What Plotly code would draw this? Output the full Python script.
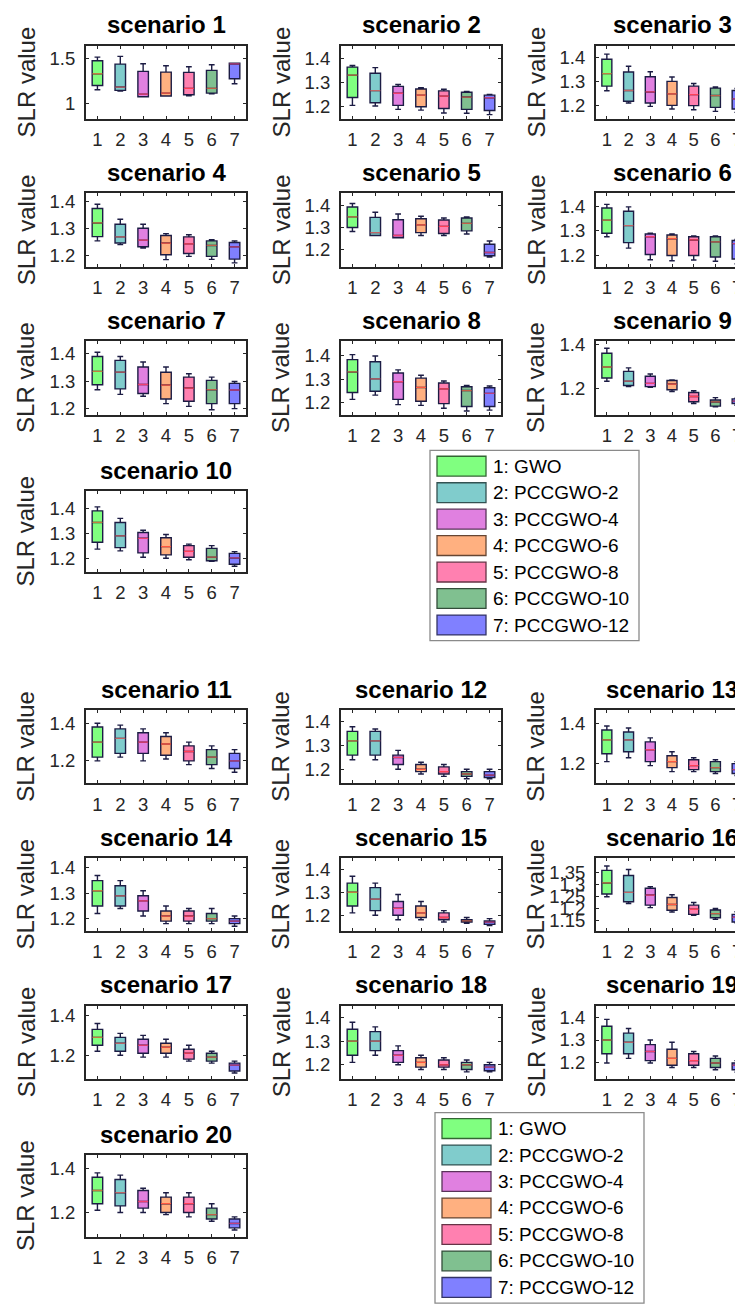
import plotly.graph_objects as go

# ---------------- data ----------------
SCENARIOS = [f"scenario {i}" for i in range(1, 21)]
CATEGORIES = ["1", "2", "3", "4", "5", "6", "7"]
METHODS = ["1: GWO", "2: PCCGWO-2", "3: PCCGWO-4", "4: PCCGWO-6",
           "5: PCCGWO-8", "6: PCCGWO-10", "7: PCCGWO-12"]

LOWER = [
    [1.148, 1.135, 1.070, 1.078, 1.081, 1.104, 1.215],
    [1.203, 1.200, 1.186, 1.183, 1.171, 1.170, 1.164],
    [1.262, 1.211, 1.197, 1.186, 1.183, 1.176, 1.172],
    [1.254, 1.240, 1.227, 1.184, 1.196, 1.185, 1.172],
    [1.281, 1.263, 1.253, 1.263, 1.263, 1.270, 1.165],
    [1.276, 1.230, 1.183, 1.179, 1.182, 1.177, 1.166],
    [1.269, 1.252, 1.245, 1.218, 1.208, 1.196, 1.200],
    [1.215, 1.233, 1.193, 1.190, 1.178, 1.166, 1.170],
    [1.233, 1.208, 1.205, 1.186, 1.131, 1.116, 1.123],
    [1.239, 1.232, 1.207, 1.203, 1.197, 1.191, 1.171],
    [1.20, 1.22, 1.20, 1.21, 1.18, 1.16, 1.14],
    [1.24, 1.24, 1.20, 1.18, 1.17, 1.16, 1.16],
    [1.21, 1.23, 1.19, 1.16, 1.16, 1.15, 1.14],
    [1.22, 1.24, 1.21, 1.18, 1.18, 1.18, 1.17],
    [1.21, 1.20, 1.18, 1.18, 1.17, 1.165, 1.155],
    [1.248, 1.220, 1.203, 1.185, 1.171, 1.154, 1.140],
    [1.22, 1.20, 1.19, 1.19, 1.17, 1.16, 1.11],
    [1.21, 1.24, 1.20, 1.18, 1.18, 1.17, 1.17],
    [1.20, 1.22, 1.20, 1.18, 1.18, 1.17, 1.16],
    [1.21, 1.20, 1.20, 1.19, 1.18, 1.16, 1.12],
]
Q1 = [
    [1.196, 1.141, 1.070, 1.078, 1.093, 1.111, 1.270],
    [1.236, 1.214, 1.203, 1.197, 1.190, 1.186, 1.181],
    [1.281, 1.218, 1.211, 1.201, 1.200, 1.193, 1.186],
    [1.270, 1.246, 1.232, 1.202, 1.207, 1.196, 1.186],
    [1.299, 1.263, 1.253, 1.276, 1.272, 1.284, 1.171],
    [1.290, 1.252, 1.204, 1.200, 1.200, 1.194, 1.186],
    [1.287, 1.272, 1.255, 1.235, 1.227, 1.218, 1.218],
    [1.244, 1.249, 1.215, 1.207, 1.197, 1.185, 1.185],
    [1.248, 1.213, 1.208, 1.194, 1.139, 1.119, 1.131],
    [1.266, 1.245, 1.224, 1.216, 1.207, 1.193, 1.179],
    [1.22, 1.24, 1.24, 1.23, 1.20, 1.18, 1.16],
    [1.26, 1.26, 1.22, 1.19, 1.18, 1.17, 1.165],
    [1.25, 1.26, 1.21, 1.18, 1.17, 1.16, 1.15],
    [1.25, 1.25, 1.23, 1.19, 1.19, 1.19, 1.18],
    [1.24, 1.22, 1.20, 1.19, 1.18, 1.17, 1.16],
    [1.259, 1.227, 1.213, 1.192, 1.175, 1.161, 1.143],
    [1.25, 1.22, 1.21, 1.21, 1.18, 1.17, 1.12],
    [1.24, 1.26, 1.21, 1.19, 1.19, 1.18, 1.175],
    [1.24, 1.24, 1.21, 1.19, 1.19, 1.18, 1.17],
    [1.24, 1.23, 1.22, 1.20, 1.20, 1.17, 1.13],
]
MEDIAN = [
    [1.326, 1.178, 1.100, 1.111, 1.163, 1.163, 1.435],
    [1.330, 1.265, 1.254, 1.246, 1.242, 1.238, 1.235],
    [1.333, 1.263, 1.257, 1.249, 1.246, 1.242, 1.228],
    [1.321, 1.269, 1.257, 1.246, 1.243, 1.237, 1.232],
    [1.347, 1.276, 1.263, 1.311, 1.304, 1.318, 1.186],
    [1.343, 1.321, 1.276, 1.268, 1.263, 1.255, 1.248],
    [1.336, 1.333, 1.288, 1.286, 1.275, 1.269, 1.268],
    [1.330, 1.301, 1.289, 1.265, 1.259, 1.252, 1.240],
    [1.298, 1.233, 1.223, 1.220, 1.163, 1.138, 1.142],
    [1.345, 1.292, 1.282, 1.249, 1.230, 1.207, 1.204],
    [1.30, 1.32, 1.30, 1.29, 1.25, 1.22, 1.20],
    [1.32, 1.32, 1.25, 1.20, 1.19, 1.18, 1.175],
    [1.32, 1.32, 1.27, 1.21, 1.19, 1.18, 1.17],
    [1.31, 1.29, 1.27, 1.21, 1.21, 1.20, 1.19],
    [1.30, 1.27, 1.23, 1.21, 1.19, 1.175, 1.17],
    [1.305, 1.266, 1.255, 1.216, 1.196, 1.178, 1.163],
    [1.29, 1.26, 1.25, 1.24, 1.21, 1.19, 1.15],
    [1.30, 1.30, 1.24, 1.21, 1.20, 1.20, 1.19],
    [1.30, 1.29, 1.25, 1.22, 1.21, 1.20, 1.19],
    [1.30, 1.29, 1.25, 1.24, 1.24, 1.19, 1.15],
]
Q3 = [
    [1.470, 1.433, 1.352, 1.344, 1.341, 1.363, 1.444],
    [1.364, 1.338, 1.283, 1.272, 1.264, 1.258, 1.246],
    [1.393, 1.340, 1.320, 1.301, 1.281, 1.273, 1.263],
    [1.375, 1.316, 1.301, 1.274, 1.269, 1.254, 1.248],
    [1.392, 1.345, 1.334, 1.339, 1.333, 1.342, 1.223],
    [1.392, 1.379, 1.287, 1.283, 1.276, 1.276, 1.261],
    [1.390, 1.376, 1.352, 1.333, 1.315, 1.303, 1.292],
    [1.382, 1.373, 1.326, 1.304, 1.284, 1.268, 1.264],
    [1.361, 1.278, 1.256, 1.236, 1.181, 1.147, 1.152],
    [1.391, 1.345, 1.305, 1.284, 1.253, 1.242, 1.222],
    [1.38, 1.37, 1.35, 1.33, 1.28, 1.26, 1.24],
    [1.36, 1.36, 1.26, 1.22, 1.21, 1.19, 1.19],
    [1.37, 1.36, 1.31, 1.24, 1.22, 1.21, 1.20],
    [1.35, 1.33, 1.29, 1.23, 1.23, 1.22, 1.20],
    [1.34, 1.32, 1.26, 1.24, 1.21, 1.18, 1.175],
    [1.357, 1.336, 1.283, 1.245, 1.213, 1.193, 1.175],
    [1.33, 1.29, 1.28, 1.26, 1.23, 1.21, 1.16],
    [1.35, 1.34, 1.26, 1.23, 1.22, 1.21, 1.20],
    [1.36, 1.33, 1.28, 1.26, 1.24, 1.22, 1.20],
    [1.36, 1.35, 1.30, 1.27, 1.27, 1.22, 1.17],
]
UPPER = [
    [1.511, 1.519, 1.437, 1.415, 1.404, 1.426, 1.444],
    [1.371, 1.362, 1.291, 1.277, 1.271, 1.262, 1.249],
    [1.414, 1.364, 1.341, 1.319, 1.292, 1.278, 1.271],
    [1.391, 1.335, 1.316, 1.281, 1.277, 1.258, 1.254],
    [1.408, 1.368, 1.360, 1.350, 1.342, 1.347, 1.238],
    [1.407, 1.397, 1.290, 1.287, 1.279, 1.279, 1.265],
    [1.406, 1.390, 1.370, 1.352, 1.327, 1.315, 1.299],
    [1.403, 1.397, 1.339, 1.316, 1.292, 1.273, 1.271],
    [1.384, 1.294, 1.266, 1.239, 1.189, 1.158, 1.155],
    [1.407, 1.361, 1.314, 1.297, 1.259, 1.253, 1.229],
    [1.40, 1.39, 1.37, 1.35, 1.30, 1.28, 1.26],
    [1.38, 1.37, 1.28, 1.23, 1.22, 1.20, 1.20],
    [1.39, 1.38, 1.33, 1.26, 1.23, 1.22, 1.21],
    [1.37, 1.35, 1.31, 1.25, 1.24, 1.24, 1.21],
    [1.37, 1.34, 1.29, 1.26, 1.22, 1.19, 1.185],
    [1.375, 1.361, 1.290, 1.256, 1.224, 1.199, 1.186],
    [1.36, 1.31, 1.30, 1.28, 1.25, 1.22, 1.17],
    [1.38, 1.36, 1.28, 1.24, 1.23, 1.22, 1.21],
    [1.39, 1.35, 1.30, 1.29, 1.25, 1.23, 1.21],
    [1.38, 1.37, 1.31, 1.29, 1.29, 1.24, 1.18],
]
Y_RANGES = [
    [0.822, 1.637], [1.145, 1.454], [1.144, 1.449], [1.157, 1.431], [1.121, 1.453],
    [1.154, 1.451], [1.178, 1.446], [1.151, 1.459], [1.080, 1.416], [1.147, 1.470],
    [1.08, 1.47], [1.14, 1.45], [1.10, 1.47], [1.15, 1.44], [1.13, 1.45],
    [1.105, 1.409], [1.08, 1.45], [1.14, 1.45], [1.13, 1.45], [1.09, 1.46],
]
Y_TICKS = [
    [1, 1.5], [1.2, 1.3, 1.4], [1.2, 1.3, 1.4], [1.2, 1.3, 1.4], [1.2, 1.3, 1.4],
    [1.2, 1.3, 1.4], [1.2, 1.3, 1.4], [1.2, 1.3, 1.4], [1.2, 1.4], [1.2, 1.3, 1.4],
    [1.2, 1.4], [1.2, 1.3, 1.4], [1.2, 1.4], [1.2, 1.3, 1.4], [1.2, 1.3, 1.4],
    [1.15, 1.2, 1.25, 1.3, 1.35], [1.2, 1.4], [1.2, 1.3, 1.4], [1.2, 1.3, 1.4], [1.2, 1.4],
]
Y_TICKTEXT = [[("%g" % v) for v in t] for t in Y_TICKS]

FILLS = [(128, 255, 128), (128, 204, 204), (224, 128, 224), (255, 176, 128),
         (255, 128, 176), (128, 192, 144), (128, 128, 255)]

# ---------------- layout geometry (page pixels) ----------------
W, H = 743, 1309
OFF = 8  # default page margin around the plot div
FONT = "Arial, Liberation Sans, sans-serif"
AXC = "#262626"
COLS = [(86, 246), (341, 501), (596, 748)]
ROWS = [(39, 113), (188, 262), (337, 411), (488, 570)]
HALF_DY = 670


def fx(px):
    return (px - OFF) / W


def fy(py):
    return 1 - (py - OFF) / H


def rgb(c):
    return "rgb(%d,%d,%d)" % c


def mix(c, d, t):
    return tuple(int(round(a * (1 - t) + b * t)) for a, b in zip(c, d))


fig = go.Figure()
annotations = []
shapes = []
layout_axes = {}

for s in range(20):
    half, k = divmod(s, 10)
    r, c = divmod(k, 3)
    x0, x1 = COLS[c]
    y0, y1 = ROWS[r]
    y0 += half * HALF_DY
    y1 += half * HALF_DY
    n = s + 1
    xname = "x" if n == 1 else f"x{n}"
    yname = "y" if n == 1 else f"y{n}"
    common = dict(showgrid=False, zeroline=False, showline=True, linecolor=AXC,
                  linewidth=2, ticks="inside", ticklen=3, tickcolor=AXC, tickwidth=1,
                  mirror="ticks")
    layout_axes["xaxis" if n == 1 else f"xaxis{n}"] = dict(
        common, domain=[fx(x0), fx(x1)], range=[0.5, 7.5], anchor=yname,
        tickvals=list(range(1, 8)), ticktext=CATEGORIES, ticklabelstandoff=3,
        tickfont=dict(family=FONT, size=18.5, color=AXC))
    layout_axes["yaxis" if n == 1 else f"yaxis{n}"] = dict(
        common, domain=[fy(y1), fy(y0)], range=Y_RANGES[s], anchor=xname,
        tickvals=Y_TICKS[s], ticktext=Y_TICKTEXT[s], ticklabelstandoff=5,
        tickfont=dict(family=FONT, size=18.5, color=AXC))

    for i in range(7):
        fill = FILLS[i]
        fig.add_trace(go.Box(
            x=[i + 1], q1=[Q1[s][i]], median=[MEDIAN[s][i]], q3=[Q3[s][i]],
            lowerfence=[LOWER[s][i]], upperfence=[UPPER[s][i]],
            width=0.46, whiskerwidth=0.55, boxpoints=False,
            fillcolor=rgb(fill), line=dict(color="#1c1c44", width=1.4),
            showlegend=False, hoverinfo="skip", xaxis=xname, yaxis=yname))
        fig.add_trace(go.Scatter(
            x=[i + 1 - 0.22, i + 1 + 0.22], y=[MEDIAN[s][i], MEDIAN[s][i]],
            mode="lines", line=dict(color=rgb(mix(fill, (255, 0, 0), 0.5)), width=1.3),
            showlegend=False, hoverinfo="skip", xaxis=xname, yaxis=yname))

    cx = (x0 + x1) / 2.0
    annotations.append(dict(
        text=f"<b>{SCENARIOS[s]}</b>", xref="paper", yref="paper",
        x=fx(cx), y=fy(y0 - 21), xanchor="center", yanchor="middle",
        showarrow=False, font=dict(family=FONT, size=24, color="black")))
    annotations.append(dict(
        text="SLR value", xref="paper", yref="paper",
        x=fx(x0 - 60), y=fy((y0 + y1) / 2.0), xanchor="center", yanchor="middle",
        textangle=-90, showarrow=False, font=dict(family=FONT, size=24, color=AXC)))

# ---------------- legends (drawn) ----------------
for dx, dy in [(0, 0), (5, 668)]:
    lx0, lx1, ly0, ly1 = 430 + dx, 639 + dx, 447 + dy, 639 + dy
    shapes.append(dict(type="rect", xref="paper", yref="paper",
                       x0=fx(lx0), x1=fx(lx1), y0=fy(ly1), y1=fy(ly0),
                       line=dict(color="#8a8a8a", width=1.3), fillcolor="white", layer="above"))
    for i, name in enumerate(METHODS):
        sy = 453 + dy + i * 26.7
        shapes.append(dict(type="rect", xref="paper", yref="paper",
                           x0=fx(437 + dx), x1=fx(486 + dx),
                           y0=fy(sy + 20), y1=fy(sy),
                           line=dict(color=rgb(mix(FILLS[i], (0, 0, 0), 0.6)), width=1.3),
                           fillcolor=rgb(FILLS[i]), layer="above"))
        annotations.append(dict(
            text=name, xref="paper", yref="paper", x=fx(491 + dx), y=fy(sy + 10),
            xanchor="left", yanchor="middle", showarrow=False,
            font=dict(family=FONT, size=19, color="black")))

fig.update_layout(
    width=W, height=H, margin=dict(l=0, r=0, t=0, b=0),
    paper_bgcolor="white", plot_bgcolor="white", showlegend=False,
    annotations=annotations, shapes=shapes, **layout_axes)

fig.write_html("out.html")
